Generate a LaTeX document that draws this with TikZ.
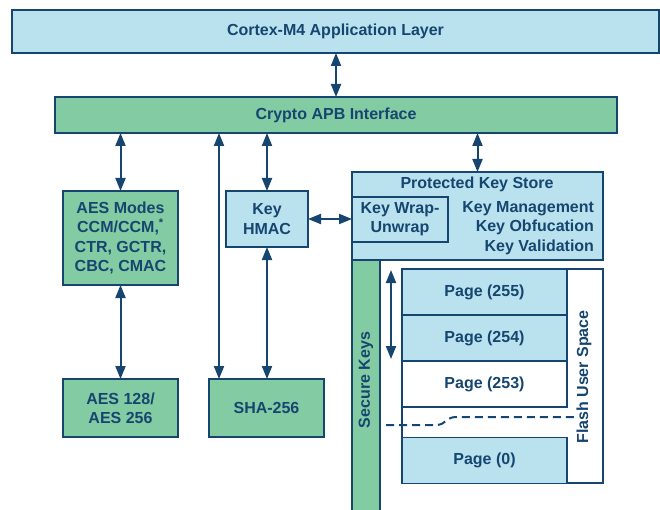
\documentclass[tikz,border=0pt]{standalone}
\usepackage{fontspec}
\setmainfont{Liberation Sans}
\usetikzlibrary{arrows.meta}
\definecolor{navy}{RGB}{22,70,112}
\definecolor{lblue}{RGB}{186,225,238}
\definecolor{lgreen}{RGB}{131,203,163}
\begin{document}
\begin{tikzpicture}[x=1pt,y=-1pt,
  txt/.style={text=navy, font=\bfseries\fontsize{16}{19.3}\selectfont, inner sep=0pt, outer sep=0pt},
  box/.style={txt, draw=navy, line width=1.8pt, align=center},
  bl/.style={box, fill=lblue},
  gr/.style={box, fill=lgreen},
  wh/.style={box, fill=white},
  dbl/.style={draw=navy, line width=2pt, {Triangle[length=13pt,width=10pt]}-{Triangle[length=13pt,width=10pt]}}]
\useasboundingbox (0,0) rectangle (660,510);

% top layers
\node[bl, minimum width=647pt, minimum height=43pt] (top) at (335.5,31.5) {Cortex-M4 Application Layer};
\node[gr, minimum width=562pt, minimum height=36pt] (apb) at (336,115) {Crypto APB Interface};

% left blocks
\node[gr, minimum width=115pt, minimum height=94pt] (aesm) at (120.5,238) {AES Modes\\CCM/CCM,\textsuperscript{*}\\CTR, GCTR,\\CBC, CMAC};
\node[gr, minimum width=115pt, minimum height=58pt] (aes) at (120.5,408) {AES 128/\\AES 256};
\node[bl, minimum width=82pt, minimum height=56pt] (hmac) at (267,219) {Key\\HMAC};
\node[gr, minimum width=115pt, minimum height=58pt] (sha) at (266.5,408) {SHA-256};

% secure keys bar
\node[gr, minimum width=28pt, minimum height=252pt] (sk) at (366,386) {};
\node[txt, rotate=90] (sklbl) at (366,380) {Secure Keys};

% protected key store
\node[bl, minimum width=251pt, minimum height=88pt] (pks) at (477.5,216) {};
\node[txt] (pkst) at (477,184) {Protected Key Store};
\node[bl, minimum width=96pt, minimum height=45pt] (kwu) at (400,219.5) {Key Wrap-\\Unwrap};
\node[txt, align=right, anchor=east] (kmgmt) at (594,228) {Key Management\\Key Obfucation\\Key Validation};

% flash user space
\node[wh, minimum width=201pt, minimum height=214pt] (flash) at (502.5,376) {};
\node[txt, rotate=90] (flbl) at (584,377) {Flash User Space};
\node[bl, minimum width=165pt, minimum height=46pt] (p255) at (484.5,292) {Page (255)};
\node[bl, minimum width=165pt, minimum height=46pt] (p254) at (484.5,338) {Page (254)};
\node[wh, minimum width=165pt, minimum height=46pt] (p253) at (484.5,384) {Page (253)};
\node[bl, minimum width=165pt, minimum height=46pt] (p0) at (484.5,460.5) {Page (0)};

% connectors
\draw[dbl] (top.south -| apb.north) -- (apb.north);
\draw[dbl] (apb.south -| aesm.north) -- (aesm.north);
\draw[dbl] (aesm.south) -- (aes.north);
\draw[dbl] ([xshift=10pt]sha.north west |- apb.south) -- ([xshift=10pt]sha.north west);
\draw[dbl] (apb.south -| hmac.north) -- (hmac.north);
\draw[dbl] (hmac.south) -- (hmac.south |- sha.north);
\draw[dbl] (apb.south -| pks.north) -- (pks.north);
\draw[dbl] (hmac.east) -- (hmac.east -| kwu.west);
\draw[dbl] ([xshift=-11pt,yshift=-1pt]p255.north west) -- ([xshift=-11pt,yshift=2pt]p254.south west);

% dashed separator
\draw[navy, line width=2pt, dash pattern=on 8pt off 5pt] (386,425) -- (436,425) .. controls (446,425) and (446,417) .. (456,417) -- (576,417);
\end{tikzpicture}
\end{document}
